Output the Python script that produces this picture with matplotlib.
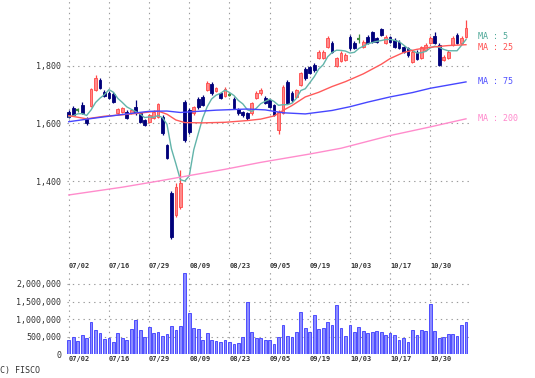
import matplotlib
matplotlib.use('Agg')
import matplotlib.pyplot as plt
import matplotlib.transforms as mtransforms
import numpy as np
import pandas as pd

# trading days shown (2019)
dates = ['07/02', '07/03', '07/04', '07/05', '07/08', '07/09', '07/10', '07/11', '07/12', '07/16',
         '07/17', '07/18', '07/19', '07/22', '07/23', '07/24', '07/25', '07/26', '07/29', '07/30',
         '07/31', '08/01', '08/02', '08/05', '08/06', '08/07', '08/08', '08/09', '08/13', '08/14',
         '08/15', '08/16', '08/19', '08/20', '08/21', '08/22', '08/23', '08/26', '08/27', '08/28',
         '08/29', '08/30', '09/02', '09/03', '09/04', '09/05', '09/06', '09/09', '09/10', '09/11',
         '09/12', '09/13', '09/17', '09/18', '09/19', '09/20', '09/24', '09/25', '09/26', '09/27',
         '09/30', '10/01', '10/02', '10/03', '10/04', '10/07', '10/08', '10/09', '10/10', '10/11',
         '10/15', '10/16', '10/17', '10/18', '10/21', '10/22', '10/23', '10/24', '10/25', '10/28',
         '10/29', '10/30', '10/31', '11/01', '11/05', '11/06', '11/07', '11/08', '11/11', '11/12']

open_ = [1640, 1654, 1647, 1664, 1616, 1661, 1716, 1751, 1710, 1706,
         1703, 1636, 1640, 1640, 1636, 1657, 1636, 1612, 1605, 1619,
         1623, 1623, 1525, 1358, 1282, 1310, 1675, 1647, 1636, 1685,
         1692, 1716, 1737, 1713, 1706, 1696, 1699, 1685, 1650, 1640,
         1636, 1636, 1689, 1706, 1689, 1682, 1664, 1577, 1636, 1744,
         1706, 1692, 1734, 1789, 1796, 1803, 1828, 1828, 1866, 1880,
         1800, 1817, 1820, 1900, 1880, 1894, 1866, 1900, 1918, 1897,
         1928, 1880, 1900, 1890, 1883, 1866, 1862, 1814, 1849, 1828,
         1855, 1880, 1904, 1873, 1820, 1828, 1873, 1908, 1880, 1900]
high = [1648, 1660, 1652, 1675, 1622, 1724, 1768, 1756, 1716, 1712,
        1708, 1654, 1658, 1645, 1650, 1682, 1640, 1616, 1634, 1645,
        1672, 1628, 1530, 1365, 1392, 1438, 1680, 1655, 1662, 1690,
        1698, 1746, 1742, 1728, 1710, 1725, 1704, 1690, 1655, 1644,
        1640, 1676, 1712, 1722, 1694, 1686, 1668, 1645, 1732, 1750,
        1712, 1720, 1780, 1794, 1800, 1808, 1854, 1854, 1902, 1885,
        1830, 1850, 1843, 1905, 1885, 1910, 1888, 1905, 1922, 1900,
        1932, 1906, 1904, 1895, 1888, 1870, 1866, 1853, 1854, 1870,
        1878, 1902, 1918, 1878, 1836, 1854, 1902, 1912, 1902, 1960]
low = [1618, 1626, 1640, 1632, 1596, 1658, 1712, 1718, 1690, 1684,
       1670, 1632, 1636, 1614, 1632, 1630, 1600, 1590, 1600, 1615,
       1619, 1560, 1475, 1198, 1275, 1305, 1535, 1565, 1630, 1650,
       1660, 1712, 1700, 1708, 1684, 1692, 1694, 1650, 1630, 1624,
       1612, 1630, 1685, 1700, 1666, 1652, 1625, 1565, 1632, 1666,
       1676, 1688, 1730, 1752, 1770, 1780, 1824, 1824, 1862, 1844,
       1796, 1812, 1815, 1856, 1858, 1880, 1860, 1875, 1878, 1878,
       1904, 1875, 1878, 1860, 1858, 1844, 1832, 1810, 1820, 1824,
       1850, 1876, 1876, 1798, 1815, 1824, 1868, 1875, 1876, 1896]
close = [1623, 1630, 1647, 1636, 1602, 1720, 1758, 1723, 1696, 1689,
         1675, 1650, 1654, 1619, 1647, 1636, 1605, 1595, 1630, 1640,
         1668, 1567, 1480, 1205, 1380, 1393, 1543, 1570, 1657, 1657,
         1664, 1740, 1706, 1723, 1689, 1720, 1699, 1654, 1636, 1630,
         1619, 1671, 1706, 1716, 1671, 1657, 1630, 1640, 1727, 1671,
         1682, 1716, 1775, 1758, 1775, 1786, 1849, 1849, 1897, 1849,
         1826, 1845, 1838, 1862, 1862, 1894, 1883, 1880, 1883, 1883,
         1908, 1900, 1883, 1866, 1862, 1849, 1838, 1849, 1824, 1866,
         1873, 1897, 1880, 1803, 1831, 1849, 1897, 1880, 1897, 1932]
volume = [394000, 490000, 365000, 548000, 452000, 933000, 692000, 606000, 433000, 462000,
          346000, 596000, 452000, 413000, 721000, 980000, 692000, 500000, 769000, 606000,
          625000, 510000, 567000, 808000, 702000, 808000, 2320000, 1163000, 750000, 721000,
          413000, 606000, 394000, 365000, 346000, 394000, 337000, 298000, 317000, 481000,
          1490000, 644000, 462000, 462000, 410000, 415000, 290000, 481000, 846000, 529000,
          481000, 625000, 1202000, 740000, 625000, 1106000, 721000, 750000, 933000, 846000,
          1413000, 750000, 529000, 846000, 644000, 788000, 673000, 596000, 644000, 673000,
          644000, 548000, 606000, 548000, 413000, 462000, 346000, 702000, 538000, 683000,
          654000, 1423000, 654000, 462000, 490000, 567000, 567000, 529000, 827000, 913000]

tick_labels = ['07/02', '07/16', '07/29', '08/09', '08/23', '09/05', '09/19', '10/03', '10/17', '10/30']

# moving averages (25/75/200 need history not shown)
ma25_dates = ['07/02', '07/08', '07/12', '07/19', '07/25', '07/31', '08/02', '08/06', '08/08', '08/15',
              '08/22', '08/29', '09/03', '09/06', '09/10', '09/12', '09/18', '09/24', '09/27', '10/02',
              '10/08', '10/15', '10/17', '10/22', '10/25', '10/30', '11/06', '11/12']
ma25_vals = [1627, 1616, 1625, 1630, 1636, 1643, 1632, 1612, 1603, 1602,
             1604, 1610, 1615, 1626, 1645, 1662, 1692, 1708, 1728, 1745,
             1772, 1805, 1825, 1846, 1857, 1864, 1870, 1873]
ma75_dates = ['07/02', '07/10', '07/22', '07/29', '08/02', '08/07', '08/20', '08/29', '09/04', '09/10',
              '09/18', '09/27', '10/03', '10/09', '10/17', '10/24', '10/30', '11/06', '11/12']
ma75_vals = [1606, 1619, 1633, 1642, 1643, 1638, 1646, 1650, 1647, 1637,
             1633, 1645, 1658, 1674, 1692, 1707, 1722, 1733, 1744]
ma200_dates = ['07/02', '07/19', '07/31', '08/13', '08/22', '09/03', '09/19', '10/01', '10/17', '10/30', '11/12']
ma200_vals = [1352, 1379, 1400, 1422, 1441, 1465, 1494, 1514, 1558, 1588, 1616]

plt.rcParams['font.family'] = ['DejaVu Sans Mono']

W, H = 535, 378
fig = plt.figure(figsize=(W / 100, H / 100), dpi=100)
ax = fig.add_axes([67 / W, 1 - 259 / H, 403 / W, 259 / H])
axv = fig.add_axes([67 / W, 1 - 354.3 / H, 403 / W, (354.3 - 270) / H])

pos = {d: i for i, d in enumerate(dates)}
x = np.arange(len(dates))
o, h, l, c = (np.array(v, dtype=float) for v in (open_, high, low, close))

grid_kw = dict(color='#9a9a9a', lw=0.8, ls=(0, (1.2, 3.6)), zorder=0)
tick_x = [pos[t] for t in tick_labels]
for a in (ax, axv):
    for t in tick_x:
        a.axvline(t, **grid_kw)
    for s in a.spines.values():
        s.set_visible(False)
for yv in [1400, 1600, 1800]:
    ax.axhline(yv, **grid_kw)
for yv in [500000, 1000000, 1500000, 2000000]:
    axv.axhline(yv, **grid_kw)

# candles
up = c > o
dn = c < o
fl = c == o
bw = 0.62
ax.vlines(x[up], l[up], h[up], color='#ff4848', lw=0.9, zorder=2)
ax.bar(x[up], (c - o)[up], bottom=o[up], width=bw, color='#ff8a8a',
       edgecolor='#ff4848', lw=0.6, zorder=3)
ax.vlines(x[dn], l[dn], h[dn], color='#00007a', lw=0.9, zorder=2)
ax.bar(x[dn], (o - c)[dn], bottom=c[dn], width=bw, color='#00007a',
       edgecolor='#00007a', lw=0.6, zorder=3)
ax.vlines(x[fl], l[fl], h[fl], color='#3d8a3d', lw=0.9, zorder=2)
ax.hlines(c[fl], x[fl] - bw / 2, x[fl] + bw / 2, color='#3d8a3d', lw=1.6, zorder=3)

# moving averages
ma5 = pd.Series(close).rolling(5, min_periods=1).mean().values
lines = [
    ('MA : 5', x, ma5, '#62b4aa', '#4fa898', 2.2),
    ('MA : 25', [pos[d] for d in ma25_dates], ma25_vals, '#ff5a5a', '#ff5050', -2.2),
    ('MA : 75', [pos[d] for d in ma75_dates], ma75_vals, '#4646ff', '#5050ff', 0),
    ('MA : 200', [pos[d] for d in ma200_dates], ma200_vals, '#ff8ccc', '#ff88cc', 0),
]
trans = mtransforms.blended_transform_factory(ax.transAxes, ax.transData)
for name, xs, ys, col, tcol, dy in lines:
    ax.plot(xs, ys, color=col, lw=1.0, zorder=4)
    ax.annotate(name, (1.02, ys[-1]), xycoords=trans, xytext=(0, dy),
                textcoords='offset points', va='center', ha='left',
                fontsize=6, color=tcol, annotation_clip=False)

ax.set_xlim(-0.4, 89.9)
ax.set_ylim(1130, 2028)
ax.set_yticks([1400, 1600, 1800])
ax.set_yticklabels(['1,400', '1,600', '1,800'])
ax.set_xticks(tick_x)
ax.set_xticklabels(tick_labels, ha='left', fontsize=5, fontweight='bold', color='#333333')
ax.tick_params(axis='y', length=0, pad=4, labelsize=6, labelcolor='#333333')
ax.tick_params(axis='x', length=0, pad=3)

# volume
axv.bar(x, volume, width=bw, color='#8c8cff', edgecolor='#3a3aff', lw=0.6, zorder=2)
axv.set_xlim(-0.4, 89.9)
axv.set_ylim(0, 2398000)
vt = [0, 500000, 1000000, 1500000, 2000000]
axv.set_yticks(vt)
axv.set_yticklabels([f'{v:,}' for v in vt])
axv.set_xticks(tick_x)
axv.set_xticklabels(tick_labels, ha='left', fontsize=5, fontweight='bold', color='#333333')
axv.tick_params(axis='y', length=0, pad=4, labelsize=6, labelcolor='#333333')
axv.tick_params(axis='x', length=0, pad=1.5)

fig.text(0.0, 1 - 370 / H, 'C) FISCO', fontsize=6, color='#333333', va='center', ha='left')

fig.savefig('out.png', dpi=100, facecolor='white')
